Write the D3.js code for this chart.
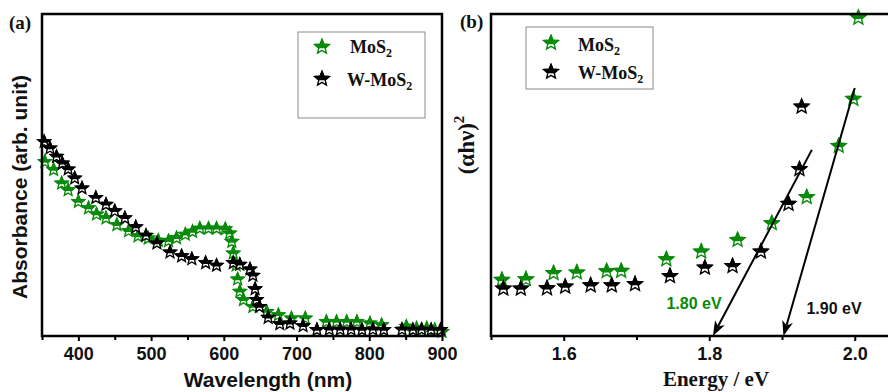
<!DOCTYPE html>
<html>
<head>
<meta charset="utf-8">
<script src="https://cdn.jsdelivr.net/npm/d3@7/dist/d3.min.js"></script>
<style>
  body { margin: 0; background: #fff; }
  svg { display: block; }
</style>
</head>
<body>
<svg id="chart" width="888" height="392"></svg>
<script>
// (a) absorbance vs wavelength
const wlMoS2 = [354, 366, 377, 386, 400, 414, 425, 438, 453, 469, 482, 496, 510, 524, 535, 547, 557, 567, 579, 590, 602, 608, 611, 613, 617, 619, 622, 627, 640, 659, 675, 693, 712, 741, 755, 769, 783, 801, 817, 851, 865, 879, 890, 900];
const absMoS2 = [0.541, 0.516, 0.474, 0.453, 0.417, 0.397, 0.378, 0.366, 0.345, 0.326, 0.310, 0.303, 0.296, 0.295, 0.304, 0.315, 0.324, 0.334, 0.334, 0.334, 0.332, 0.319, 0.293, 0.257, 0.220, 0.176, 0.138, 0.112, 0.091, 0.075, 0.065, 0.055, 0.055, 0.044, 0.044, 0.044, 0.044, 0.039, 0.034, 0.029, 0.024, 0.024, 0.019, 0.013];
const wlW = [353, 361, 370, 378, 386, 395, 405, 424, 438, 450, 464, 479, 493, 508, 526, 542, 556, 575, 590, 613, 622, 636, 640, 643, 645, 649, 661, 677, 691, 709, 728, 745, 760, 775, 790, 805, 820, 845, 860, 872, 885, 898];
const absW = [0.603, 0.583, 0.557, 0.536, 0.518, 0.490, 0.459, 0.429, 0.408, 0.388, 0.366, 0.338, 0.312, 0.288, 0.260, 0.248, 0.239, 0.227, 0.219, 0.227, 0.222, 0.207, 0.188, 0.146, 0.112, 0.091, 0.057, 0.037, 0.039, 0.031, 0.019, 0.020, 0.020, 0.020, 0.019, 0.020, 0.019, 0.020, 0.019, 0.020, 0.019, 0.019];
const wlTicks = [400, 500, 600, 700, 800, 900];
const wlMinor = [350, 450, 550, 650, 750, 850];

// (b) Tauc plot
const eMoS2 = [1.515, 1.548, 1.586, 1.618, 1.659, 1.679, 1.741, 1.789, 1.839, 1.886, 1.934, 1.978, 1.998, 2.005];
const tMoS2 = [17.4, 17.6, 19.5, 19.7, 20.1, 20.2, 23.8, 26.2, 29.8, 35.0, 43.1, 59.0, 73.6, 98.8];
const eW = [1.517, 1.541, 1.577, 1.602, 1.637, 1.666, 1.698, 1.746, 1.794, 1.832, 1.871, 1.909, 1.924, 1.927];
const tW = [14.7, 14.7, 14.8, 15.3, 15.7, 15.7, 16.1, 18.6, 21.2, 21.7, 26.2, 41.0, 51.8, 71.2];
const eTicks = [1.6, 1.8, 2.0];
const eMinor = [1.5, 1.7, 1.9, 2.1];
// fitted lines: [E at axis, E top, value top]
const fitW = [1.805, 1.941, 57.8];
const fitMoS2 = [1.902, 2.000, 77.0];
const gapLabels = ["1.80 eV", "1.90 eV"];

const green = "#0a8a0a";
const svg = d3.select("#chart");
const defs = svg.append("defs");

function starPath(R) {
  const r = R * 0.45, pts = [];
  for (let i = 0; i < 10; i++) {
    const a = -Math.PI / 2 + i * Math.PI / 5, rr = i % 2 ? r : R;
    pts.push([rr * Math.cos(a), rr * Math.sin(a)]);
  }
  return "M" + pts.map(p => p[0].toFixed(2) + "," + p[1].toFixed(2)).join("L") + "Z";
}

function addClip(id, R) {
  defs.append("clipPath").attr("id", id)
    .append("rect").attr("x", -20).attr("y", -20).attr("width", 40).attr("height", 20 + R * 0.15);
}
addClip("halfA", 6.5);
addClip("halfB", 7.5);
addClip("halfL", 7.5);

function star(g, x, y, R, color, clipId) {
  const s = g.append("g").attr("transform", "translate(" + x + "," + y + ")");
  s.append("path").attr("d", starPath(R)).attr("fill", "#fff").attr("stroke", color).attr("stroke-width", 1.4);
  s.append("path").attr("d", starPath(R)).attr("fill", color).attr("stroke", color).attr("stroke-width", 1.4)
    .attr("clip-path", "url(#" + clipId + ")");
}

function legend(g, x0, y0, w, h, rows) {
  g.append("rect").attr("x", x0).attr("y", y0).attr("width", w).attr("height", h)
    .attr("fill", "#fff").attr("stroke", "#8a8a8a").attr("stroke-width", 1);
  rows.forEach(r => {
    star(g, r.sx, r.sy, 7.5, r.color, "halfL");
    const t = g.append("text").attr("x", r.tx).attr("y", r.ty)
      .attr("font-family", "Liberation Serif, Times New Roman, serif").attr("font-weight", "bold")
      .attr("font-size", 18).attr("fill", "#111");
    t.append("tspan").text(r.name);
    t.append("tspan").attr("font-size", 12).attr("dy", 4).text("2");
  });
}

function bottomAxis(g, x, y0, major, minor, fmt) {
  const ax = g.append("g").attr("transform", "translate(0," + y0 + ")")
    .call(d3.axisBottom(x).tickValues(major).tickSize(5).tickPadding(6).tickFormat(fmt));
  ax.select(".domain").remove();
  ax.selectAll("line").attr("stroke", "#000").attr("stroke-width", 2);
  ax.selectAll("text").attr("font-family", "Liberation Sans, Arial, sans-serif")
    .attr("font-weight", "bold").attr("font-size", 18).attr("fill", "#111");
  const mn = g.append("g").attr("transform", "translate(0," + y0 + ")")
    .call(d3.axisBottom(x).tickValues(minor).tickSize(4).tickFormat(""));
  mn.select(".domain").remove();
  mn.selectAll("line").attr("stroke", "#000").attr("stroke-width", 2);
}

// ---------- panel (a)
const plotTop = 14, plotBottom = 336;
const xA = d3.scaleLinear().domain([350, 900]).range([42, 442]);
const yA = d3.scaleLinear().domain([0, 1]).range([plotBottom, plotTop]);
const gA = svg.append("g");

bottomAxis(gA, xA, plotBottom, wlTicks, wlMinor, d3.format("d"));

const ptsA = gA.append("g");
wlMoS2.forEach((w, i) => star(ptsA, xA(w), yA(absMoS2[i]), 6.5, green, "halfA"));
wlW.forEach((w, i) => star(ptsA, xA(w), yA(absW[i]), 6.5, "#000", "halfA"));

gA.append("rect").attr("x", 42).attr("y", plotTop).attr("width", 400).attr("height", plotBottom - plotTop)
  .attr("fill", "none").attr("stroke", "#000").attr("stroke-width", 2.5);

legend(gA, 298, 32, 127, 86, [
  {name: "MoS", color: green, sx: 322, sy: 47, tx: 350, ty: 53},
  {name: "W-MoS", color: "#000", sx: 322, sy: 79, tx: 347, ty: 86}
]);

gA.append("text").attr("transform", "translate(27," + ((plotTop + plotBottom) / 2 + 12) + ") rotate(-90)")
  .attr("text-anchor", "middle").attr("font-family", "Liberation Sans, Arial, sans-serif")
  .attr("font-weight", "bold").attr("font-size", 21).attr("fill", "#111")
  .text("Absorbance (arb. unit)");
gA.append("text").attr("x", 268).attr("y", 387).attr("text-anchor", "middle")
  .attr("font-family", "Liberation Sans, Arial, sans-serif")
  .attr("font-weight", "bold").attr("font-size", 21).attr("fill", "#111")
  .text("Wavelength (nm)");
gA.append("text").attr("x", 9).attr("y", 29)
  .attr("font-family", "Liberation Serif, Times New Roman, serif")
  .attr("font-weight", "bold").attr("font-size", 19).attr("fill", "#111").text("(a)");

// ---------- panel (b)
const xB = d3.scaleLinear().domain([1.5, 2.1]).range([491, 927.5]);
const yB = d3.scaleLinear().domain([0, 100]).range([plotBottom, plotTop]);
const gB = svg.append("g");

bottomAxis(gB, xB, plotBottom, eTicks, eMinor, d3.format(".1f"));

const ptsB = gB.append("g");
eMoS2.forEach((e, i) => star(ptsB, xB(e), yB(tMoS2[i]), 7.5, green, "halfB"));
eW.forEach((e, i) => star(ptsB, xB(e), yB(tW[i]), 7.5, "#000", "halfB"));

// fit lines with arrows at the energy axis
[fitW, fitMoS2].forEach(f => {
  const xb = xB(f[0]), yb = yB(0), xt = xB(f[1]), yt = yB(f[2]);
  const ang = Math.atan2(yb - yt, xb - xt);
  const L = 15, Wd = 5.5;
  const bx = xb - L * Math.cos(ang), by = yb - L * Math.sin(ang);
  gB.append("line").attr("x1", xt).attr("y1", yt).attr("x2", bx + 4 * Math.cos(ang)).attr("y2", by + 4 * Math.sin(ang))
    .attr("stroke", "#000").attr("stroke-width", 2);
  gB.append("path")
    .attr("d", "M" + xb + "," + yb +
      "L" + (bx + Wd * Math.sin(ang)) + "," + (by - Wd * Math.cos(ang)) +
      "L" + (bx + 4 * Math.cos(ang)) + "," + (by + 4 * Math.sin(ang)) +
      "L" + (bx - Wd * Math.sin(ang)) + "," + (by + Wd * Math.cos(ang)) + "Z")
    .attr("fill", "#000");
});

gB.append("text").attr("x", 694).attr("y", 309).attr("text-anchor", "middle")
  .attr("font-family", "Liberation Sans, Arial, sans-serif").attr("font-weight", "bold")
  .attr("font-size", 16).attr("fill", green).text(gapLabels[0]);
gB.append("text").attr("x", 834).attr("y", 314).attr("text-anchor", "middle")
  .attr("font-family", "Liberation Sans, Arial, sans-serif").attr("font-weight", "bold")
  .attr("font-size", 16).attr("fill", "#111").text(gapLabels[1]);

gB.append("rect").attr("x", 491).attr("y", plotTop).attr("width", 436.5).attr("height", plotBottom - plotTop)
  .attr("fill", "none").attr("stroke", "#000").attr("stroke-width", 2.5);

legend(gB, 526, 27, 127, 62, [
  {name: "MoS", color: green, sx: 551, sy: 43, tx: 578, ty: 51},
  {name: "W-MoS", color: "#000", sx: 551, sy: 72, tx: 578, ty: 79}
]);

const yl = gB.append("text").attr("transform", "translate(474,145) rotate(-90)")
  .attr("text-anchor", "middle").attr("font-family", "Liberation Serif, Times New Roman, serif")
  .attr("font-weight", "bold").attr("font-size", 23).attr("fill", "#111");
yl.append("tspan").text("(\u03b1h\u03bd)");
yl.append("tspan").attr("font-size", 15).attr("dy", -10).text("2");
gB.append("text").attr("x", 716).attr("y", 386).attr("text-anchor", "middle")
  .attr("font-family", "Liberation Serif, Times New Roman, serif")
  .attr("font-weight", "bold").attr("font-size", 21).attr("fill", "#111").text("Energy / eV");
gB.append("text").attr("x", 460).attr("y", 28)
  .attr("font-family", "Liberation Serif, Times New Roman, serif")
  .attr("font-weight", "bold").attr("font-size", 19).attr("fill", "#111").text("(b)");
</script>
</body>
</html>
